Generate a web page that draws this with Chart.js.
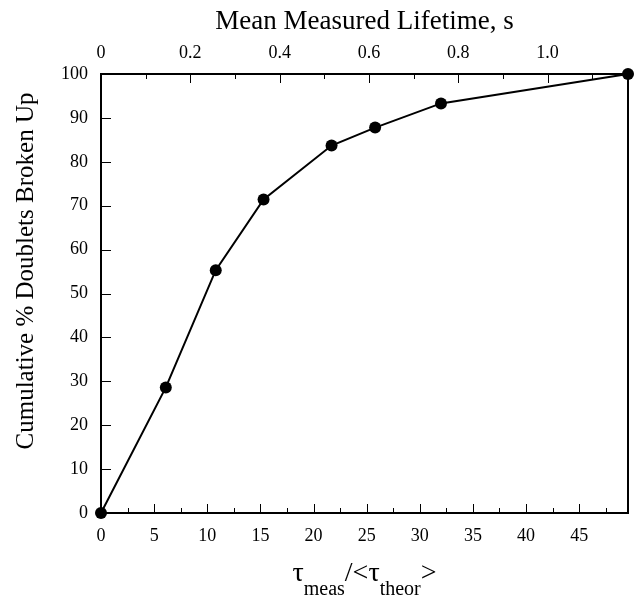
<!DOCTYPE html>
<html>
<head>
<meta charset="utf-8">
<script src="https://cdn.jsdelivr.net/npm/chart.js@4/dist/chart.umd.min.js"></script>
<style>
  html, body { margin: 0; padding: 0; background: #fff; }
  #wrap { width: 634px; height: 601px; }
</style>
</head>
<body>
<div id="wrap"><canvas id="c" width="634" height="601"></canvas></div>
<script>
// Lifetime ratio (bottom axis) and cumulative fraction of doublets broken up
const ratio      = [0, 6.1, 10.8, 15.3, 21.7, 25.8, 32.0, 49.6];
const cumulative = [0, 28.6, 55.3, 71.4, 83.7, 87.8, 93.3, 100];

// Axis tick labels
const ratioTicks    = [0, 5, 10, 15, 20, 25, 30, 35, 40, 45];
const lifetimeTicks = [0, 0.2, 0.4, 0.6, 0.8, 1.0];
const percentTicks  = [0, 10, 20, 30, 40, 50, 60, 70, 80, 90, 100];

// Axis ranges
const ratioMax = 49.6;
const lifetimeMax = 1.18;

const SERIF = '"Liberation Serif", "DejaVu Serif", serif';
const tickFont = { family: SERIF, size: 18 };

const points = ratio.map((x, i) => ({ x: x, y: cumulative[i] }));

// Inward tick marks (major and minor) on bottom, top and left axes
const innerTicks = {
  id: 'innerTicks',
  afterDraw(chart) {
    const ctx = chart.ctx;
    const xs = chart.scales.x, xt = chart.scales.xTop, ys = chart.scales.y;
    const area = chart.chartArea;
    ctx.save();
    ctx.strokeStyle = '#000';
    ctx.lineWidth = 1;
    ctx.beginPath();
    for (let v = 0; v < ratioMax; v += 2.5) {
      const px = Math.round(xs.getPixelForValue(v)) + 0.5;
      const len = (v % 5 === 0) ? 9 : 5;
      ctx.moveTo(px, area.bottom);
      ctx.lineTo(px, area.bottom - len);
    }
    for (let k = 0; k * 0.1 < lifetimeMax; k++) {
      const px = Math.round(xt.getPixelForValue(k * 0.1)) + 0.5;
      const len = (k % 2 === 0) ? 9 : 5;
      ctx.moveTo(px, area.top);
      ctx.lineTo(px, area.top + len);
    }
    percentTicks.forEach(v => {
      const py = Math.round(ys.getPixelForValue(v)) + 0.5;
      ctx.moveTo(area.left, py);
      ctx.lineTo(area.left + 10, py);
    });
    ctx.stroke();
    ctx.restore();
  }
};

// Axis titles, including the subscripted ratio label
const axisTitles = {
  id: 'axisTitles',
  afterDraw(chart) {
    const ctx = chart.ctx;
    const area = chart.chartArea;
    const cx = (area.left + area.right) / 2;
    ctx.save();
    ctx.fillStyle = '#000';

    // top title
    ctx.font = '27px ' + SERIF;
    ctx.textAlign = 'center';
    ctx.textBaseline = 'alphabetic';
    ctx.fillText('Mean Measured Lifetime, s', cx, 29);

    // left title
    ctx.save();
    ctx.translate(33, 271);
    ctx.rotate(-Math.PI / 2);
    ctx.font = '25px ' + SERIF;
    ctx.textAlign = 'center';
    ctx.fillText('Cumulative % Doublets Broken Up', 0, 0);
    ctx.restore();

    // bottom title: tau_meas / <tau_theor>
    const big = '28px ' + SERIF, small = '20px ' + SERIF;
    const parts = [
      { t: '\u03C4', f: big, dy: 0 },
      { t: 'meas', f: small, dy: 14 },
      { t: '/<\u03C4', f: big, dy: 0 },
      { t: 'theor', f: small, dy: 14 },
      { t: '>', f: big, dy: 0 }
    ];
    let total = 0;
    parts.forEach(p => { ctx.font = p.f; p.w = ctx.measureText(p.t).width; total += p.w; });
    let x = cx - total / 2;
    const base = 581;
    ctx.textAlign = 'left';
    parts.forEach(p => {
      ctx.font = p.f;
      ctx.fillText(p.t, x, base + p.dy);
      x += p.w;
    });
    ctx.restore();
  }
};

new Chart(document.getElementById('c'), {
  type: 'scatter',
  data: {
    datasets: [{
      data: points,
      showLine: true,
      borderColor: '#000',
      borderWidth: 2,
      backgroundColor: '#000',
      pointRadius: 6,
      pointHoverRadius: 6,
      pointBorderWidth: 0,
      clip: false,
      tension: 0
    }]
  },
  options: {
    responsive: false,
    animation: false,
    events: [],
    layout: { padding: { left: 0, right: 0, top: 0, bottom: 0 } },
    plugins: { legend: { display: false }, tooltip: { enabled: false }, title: { display: false } },
    scales: {
      x: {
        type: 'linear', position: 'bottom', min: 0, max: ratioMax,
        afterBuildTicks: s => { s.ticks = ratioTicks.map(v => ({ value: v })); },
        afterFit: s => { s.height = 88; },
        ticks: { font: tickFont, color: '#000', padding: 12, maxRotation: 0, autoSkip: false },
        grid: { drawOnChartArea: false, drawTicks: false },
        border: { display: true, color: '#000', width: 2 }
      },
      xTop: {
        type: 'linear', position: 'top', min: 0, max: lifetimeMax,
        afterBuildTicks: s => { s.ticks = lifetimeTicks.map(v => ({ value: v })); },
        afterFit: s => { s.height = 74; },
        ticks: {
          font: tickFont, color: '#000', padding: 10, maxRotation: 0, autoSkip: false,
          callback: v => (v === 0 ? '0' : v.toFixed(1))
        },
        grid: { drawOnChartArea: false, drawTicks: false },
        border: { display: true, color: '#000', width: 2 }
      },
      y: {
        type: 'linear', position: 'left', min: 0, max: 100,
        afterBuildTicks: s => { s.ticks = percentTicks.map(v => ({ value: v })); },
        afterFit: s => { s.width = 101; },
        ticks: { font: tickFont, color: '#000', padding: 13, autoSkip: false },
        grid: { drawOnChartArea: false, drawTicks: false },
        border: { display: true, color: '#000', width: 2 }
      },
      yRight: {
        type: 'linear', position: 'right', min: 0, max: 100,
        afterFit: s => { s.width = 2; },
        ticks: { display: false },
        grid: { drawOnChartArea: false, drawTicks: false },
        border: { display: true, color: '#000', width: 2 }
      }
    }
  },
  plugins: [innerTicks, axisTitles]
});
</script>
</body>
</html>
